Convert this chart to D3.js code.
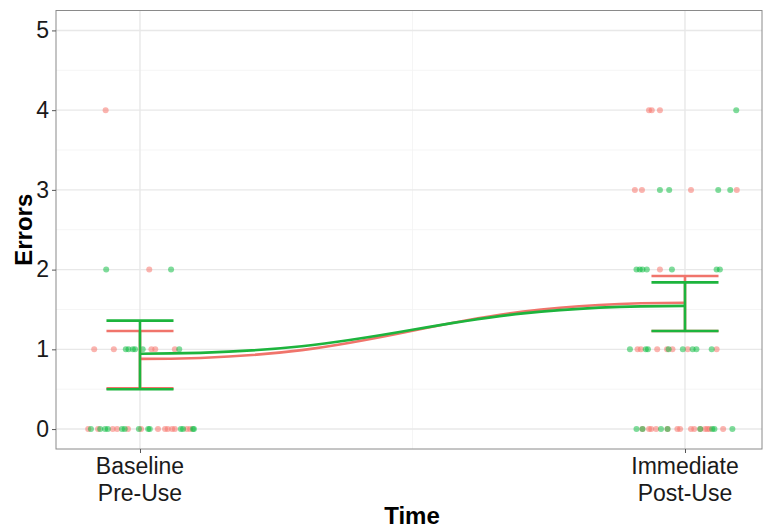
<!DOCTYPE html>
<html>
<head>
<meta charset="utf-8">
<script src="https://cdn.jsdelivr.net/npm/d3@7"></script>
<style>
  body { margin: 0; background: #fff; }
  svg { display: block; font-family: "Liberation Sans", Arial, sans-serif; }
</style>
</head>
<body>
<div id="chart"></div>
<script>
// time: 1 = Baseline / Pre-Use, 2 = Immediate / Post-Use (jittered)
const timeTicks = [1, 2];
const timeLabels = [["Baseline", "Pre-Use"], ["Immediate", "Post-Use"]];
const errorTicks = [0, 1, 2, 3, 4, 5];

const redPoints = [
    [0.937, 4], [1.017, 2],
    [0.916, 1], [0.952, 1], [1.021, 1], [1.028, 1], [1.064, 1],
    [0.905, 0], [0.923, 0], [0.950, 0], [0.958, 0], [0.978, 0], [1.002, 0], [1.033, 0],
    [1.046, 0], [1.051, 0], [1.059, 0], [1.064, 0], [1.086, 0], [1.092, 0],
    [1.934, 4], [1.939, 4], [1.954, 4],
    [1.908, 3], [1.921, 3], [2.011, 3], [2.095, 3],
    [1.954, 2],
    [1.913, 1], [1.919, 1], [1.949, 1], [1.967, 1], [1.977, 1], [2.005, 1], [2.058, 1],
    [1.922, 0], [1.934, 0], [1.938, 0], [1.947, 0], [1.968, 0], [1.986, 0], [1.991, 0],
    [2.011, 0], [2.017, 0], [2.028, 0], [2.037, 0], [2.041, 0], [2.045, 0], [2.070, 0]
];
const greenPoints = [
    [0.938, 2], [1.057, 2],
    [0.974, 1], [0.979, 1], [0.987, 1], [0.991, 1], [1.005, 1], [1.072, 1],
    [0.910, 0], [0.927, 0], [0.936, 0], [0.941, 0], [0.967, 0], [0.972, 0], [0.998, 0],
    [1.015, 0], [1.018, 0], [1.075, 0], [1.079, 0], [1.097, 0], [1.099, 0],
    [2.094, 4],
    [1.954, 3], [1.971, 3], [2.061, 3], [2.083, 3],
    [1.911, 2], [1.917, 2], [1.922, 2], [1.930, 2], [1.976, 2], [2.058, 2], [2.064, 2],
    [1.899, 1], [1.928, 1], [1.932, 1], [1.970, 1], [1.996, 1], [2.014, 1], [2.021, 1], [2.049, 1],
    [1.911, 0], [1.922, 0], [1.956, 0], [1.968, 0], [2.028, 0], [2.050, 0], [2.054, 0], [2.087, 0]
];

// summary per time: mean, lower, upper
const redMean = [0.88, 1.585];
const redLow = [0.51, 1.23];
const redHigh = [1.23, 1.92];
const greenMean = [0.945, 1.545];
const greenLow = [0.50, 1.23];
const greenHigh = [1.36, 1.84];

const width = 763, height = 529;
const margin = {top: 10.5, right: 1, bottom: 80, left: 56};
const capHalf = 0.0615;

const svg = d3.select("#chart").append("svg")
    .attr("width", width).attr("height", height);

const x = d3.scaleLinear()
    .domain([0.8459, 2.1413])
    .range([margin.left, width - margin.right]);
const y = d3.scaleLinear()
    .domain([-0.25, 5.25])
    .range([height - margin.bottom, margin.top]);

// grid
const grid = svg.append("g");
grid.selectAll(".ymin").data([0.5, 1.5, 2.5, 3.5, 4.5]).join("line")
    .attr("x1", x.range()[0]).attr("x2", x.range()[1])
    .attr("y1", d => y(d)).attr("y2", d => y(d))
    .attr("stroke", "#f3f3f3").attr("stroke-width", 0.8);
grid.selectAll(".xmin").data([1.5]).join("line")
    .attr("y1", y.range()[0]).attr("y2", y.range()[1])
    .attr("x1", d => x(d)).attr("x2", d => x(d))
    .attr("stroke", "#f3f3f3").attr("stroke-width", 0.8);
grid.selectAll(".ymaj").data(errorTicks).join("line")
    .attr("x1", x.range()[0]).attr("x2", x.range()[1])
    .attr("y1", d => y(d)).attr("y2", d => y(d))
    .attr("stroke", "#e8e8e8").attr("stroke-width", 1.4);
grid.selectAll(".xmaj").data(timeTicks).join("line")
    .attr("y1", y.range()[0]).attr("y2", y.range()[1])
    .attr("x1", d => x(d)).attr("x2", d => x(d))
    .attr("stroke", "#e8e8e8").attr("stroke-width", 1.4);

// points
const drawPoints = (data, color, op) => {
    svg.append("g").selectAll("circle").data(data).join("circle")
        .attr("cx", d => x(d[0]))
        .attr("cy", d => y(d[1]))
        .attr("r", 3)
        .attr("fill", color)
        .attr("opacity", op);
};
drawPoints(redPoints, "#F8766D", 0.55);
drawPoints(greenPoints, "#00BA38", 0.5);

// summary lines + error bars
const line = d3.line()
    .x((d, i) => x(timeTicks[i]))
    .y(d => y(d))
    .curve(d3.curveBumpX);

const drawSummary = (mean, low, high, color) => {
    svg.append("path")
        .datum(mean)
        .attr("fill", "none")
        .attr("stroke", color)
        .attr("stroke-width", 2.6)
        .attr("d", line);
    const g = svg.append("g")
        .attr("stroke", color)
        .attr("stroke-width", 2.6)
        .selectAll("g")
        .data(timeTicks)
        .join("g");
    g.append("line")
        .attr("x1", d => x(d)).attr("x2", d => x(d))
        .attr("y1", (d, i) => y(low[i])).attr("y2", (d, i) => y(high[i]));
    g.append("line")
        .attr("x1", d => x(d - capHalf)).attr("x2", d => x(d + capHalf))
        .attr("y1", (d, i) => y(low[i])).attr("y2", (d, i) => y(low[i]));
    g.append("line")
        .attr("x1", d => x(d - capHalf)).attr("x2", d => x(d + capHalf))
        .attr("y1", (d, i) => y(high[i])).attr("y2", (d, i) => y(high[i]));
};
drawSummary(redMean, redLow, redHigh, "#F0746B");
drawSummary(greenMean, greenLow, greenHigh, "#1DB43D");

// panel border
svg.append("rect")
    .attr("x", x.range()[0]).attr("y", y.range()[1])
    .attr("width", x.range()[1] - x.range()[0])
    .attr("height", y.range()[0] - y.range()[1])
    .attr("fill", "none")
    .attr("stroke", "#8a8a8a")
    .attr("stroke-width", 1);

// y axis
const yAxis = g => g
    .attr("transform", `translate(${margin.left},0)`)
    .call(d3.axisLeft(y).tickValues(errorTicks).tickFormat(d3.format("d")).tickSize(4).tickPadding(3))
    .call(g => g.select(".domain").remove())
    .call(g => g.selectAll(".tick line").attr("stroke", "#555"))
    .call(g => g.selectAll(".tick text")
        .attr("font-size", 23)
        .attr("fill", "#1a1a1a")
        .attr("font-family", "Liberation Sans, Arial, sans-serif"));
svg.append("g").call(yAxis);

// x axis
const xAxis = g => g
    .attr("transform", `translate(0,${height - margin.bottom})`)
    .call(d3.axisBottom(x).tickValues(timeTicks).tickSize(4).tickFormat(""))
    .call(g => g.select(".domain").remove())
    .call(g => g.selectAll(".tick line").attr("stroke", "#555"));
svg.append("g").call(xAxis);

svg.append("g").selectAll("text").data(timeTicks).join("text")
    .attr("x", d => x(d))
    .attr("y", height - margin.bottom + 25)
    .attr("text-anchor", "middle")
    .attr("font-size", 23)
    .attr("fill", "#1a1a1a")
    .selectAll("tspan")
    .data((d, i) => timeLabels[i])
    .join("tspan")
    .attr("x", function() { return d3.select(this.parentNode).attr("x"); })
    .attr("dy", (d, i) => i === 0 ? 0 : 27)
    .text(d => d);

// titles
svg.append("text")
    .attr("x", (x.range()[0] + x.range()[1]) / 2 + 3)
    .attr("y", 524)
    .attr("text-anchor", "middle")
    .attr("font-size", 24)
    .attr("font-weight", "bold")
    .text("Time");

svg.append("text")
    .attr("transform", `translate(32,${(y.range()[0] + y.range()[1]) / 2}) rotate(-90)`)
    .attr("text-anchor", "middle")
    .attr("font-size", 24)
    .attr("font-weight", "bold")
    .text("Errors");
</script>
</body>
</html>
